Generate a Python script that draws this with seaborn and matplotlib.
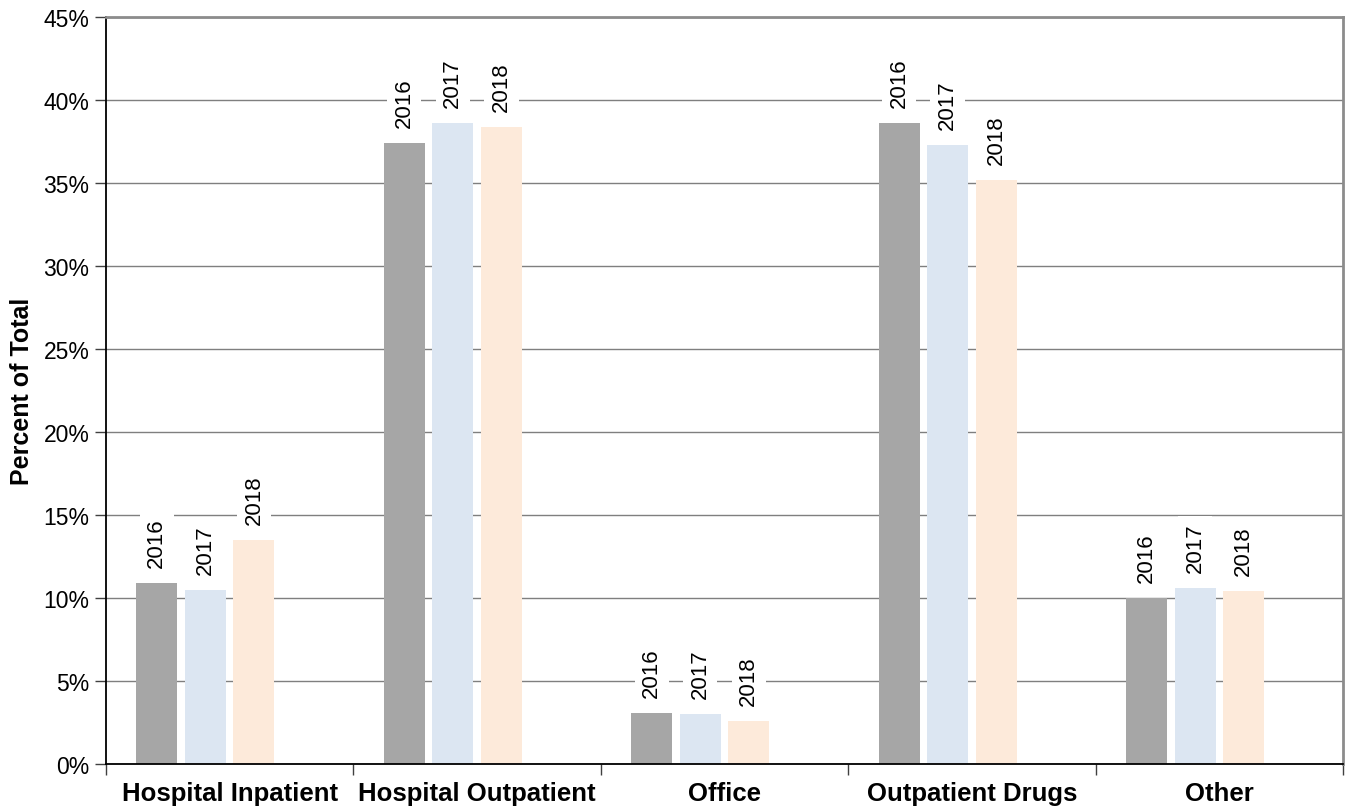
import matplotlib
matplotlib.use("Agg")
import matplotlib.pyplot as plt
import matplotlib.ticker as mticker
import seaborn as sns
import pandas as pd
import numpy as np

# Share of total spending by service type, per year (percent)
categories = ["Hospital Inpatient", "Hospital Outpatient", "Office", "Outpatient Drugs", "Other"]
years = ["2016", "2017", "2018"]
share_2016 = [10.9, 37.4, 3.1, 38.6, 10.0]
share_2017 = [10.5, 38.6, 3.0, 37.3, 10.6]
share_2018 = [13.5, 38.4, 2.6, 35.2, 10.4]
y_ticks = [0, 5, 10, 15, 20, 25, 30, 35, 40, 45]

colors = {"2016": "#A6A6A6", "2017": "#DCE6F2", "2018": "#FDEADA", " ": "#FFFFFF"}

rows = []
for yr, vals in zip(years, [share_2016, share_2017, share_2018]):
    for cat, v in zip(categories, vals):
        rows.append({"category": cat, "year": yr, "share": v})
df = pd.DataFrame(rows)

sns.set_theme(style="white")
plt.rcParams["font.family"] = ["Liberation Sans", "DejaVu Sans"]
plt.rcParams["text.color"] = "black"
plt.rcParams["axes.labelcolor"] = "black"
plt.rcParams["xtick.color"] = "black"
plt.rcParams["ytick.color"] = "black"

fig = plt.figure(figsize=(13.48, 8.12), dpi=100)
ax = fig.add_axes([106 / 1348, 1 - 765 / 812, (1343 - 106) / 1348, (765 - 18) / 812])

# an empty fourth slot keeps each year group in the left part of its category
sns.barplot(data=df, x="category", y="share", hue="year",
            hue_order=years + [" "], order=categories, palette=colors, saturation=1,
            width=0.785, gap=0.155, legend=False, ax=ax, zorder=2,
            edgecolor="none", linewidth=0)

for cont, yr in zip(ax.containers, years):
    ax.bar_label(cont, labels=[yr] * len(cont), rotation=90, padding=11.5,
                 fontsize=16, color="black", zorder=3,
                 bbox=dict(boxstyle="square,pad=0.3", facecolor="white", edgecolor="none"))

ax.set_ylim(0, 45)
ax.set_xlim(-0.5, len(categories) - 0.5)
ax.yaxis.set_major_locator(mticker.FixedLocator(y_ticks))
ax.yaxis.set_major_formatter(mticker.FuncFormatter(lambda v, p: f"{int(v)}%"))
ax.grid(axis="y", color="#7f7f7f", linewidth=1.0, zorder=0)
ax.set_axisbelow(True)

# category names centered, tick marks at the category boundaries
ax.set_xticks(range(len(categories)))
ax.set_xticklabels(categories, fontsize=18.5, fontweight="bold")
ax.set_xticks(np.arange(-0.5, len(categories), 1.0), minor=True)
ax.tick_params(axis="x", which="major", length=0, pad=12)
ax.tick_params(axis="x", which="minor", length=8, width=1, color="#404040", direction="out", bottom=True)
ax.tick_params(axis="y", which="major", length=8, width=1, color="#404040", direction="out",
               left=True, labelsize=16.5, pad=4)

ax.set_xlabel("")
ax.set_ylabel("Percent of Total", fontsize=18, fontweight="bold", labelpad=7)

for side in ["left", "bottom"]:
    ax.spines[side].set_color("black")
    ax.spines[side].set_linewidth(1.3)
for side in ["top", "right"]:
    ax.spines[side].set_visible(True)
    ax.spines[side].set_color("#8c8c8c")
    ax.spines[side].set_linewidth(2)

fig.savefig("out.png", dpi=100, facecolor="white")
